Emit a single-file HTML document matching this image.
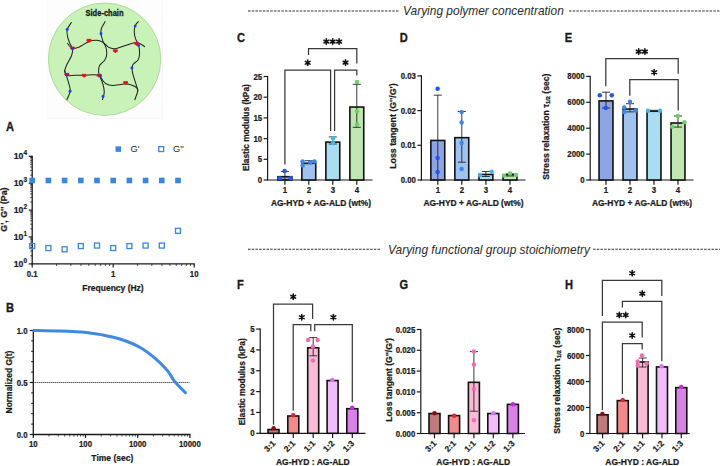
<!DOCTYPE html>
<html><head><meta charset="utf-8"><style>
html,body{margin:0;padding:0;background:#fff;width:720px;height:466px;overflow:hidden;}
svg{display:block;font-family:"Liberation Sans",sans-serif;}
</style></head><body>
<svg width="720" height="466" viewBox="0 0 720 466" font-family="&quot;Liberation Sans&quot;, sans-serif">
<rect width="720" height="466" fill="#fff"/>
<rect x="47" y="-1" width="115.5" height="119.5" fill="#fdfdfd" stroke="#f4f4f4" stroke-width="0.8"/>
<circle cx="104.6" cy="59.2" r="56.2" fill="#c8f2b8" stroke="#a6d994" stroke-width="0.9"/>
<text transform="translate(104.50 15.90) scale(0.8 1)" font-size="9.4" font-weight="bold" text-anchor="middle" fill="#151515" stroke="#151515" stroke-width="0.3">Side-chain</text>
<path d="M71.60,22.20 C70.87,23.42 67.85,27.00 67.20,29.50 C66.55,32.00 67.22,34.78 67.70,37.20 C68.18,39.62 69.30,42.07 70.10,44.00 C70.90,45.93 72.25,46.88 72.50,48.80 C72.75,50.72 72.55,52.85 71.60,55.50 C70.65,58.15 67.93,62.22 66.80,64.70 C65.67,67.18 64.88,68.63 64.80,70.40 C64.72,72.17 65.48,72.55 66.30,75.30 C67.12,78.05 69.07,84.17 69.70,86.90 C70.33,89.63 70.58,89.52 70.10,91.70 C69.62,93.88 67.35,98.62 66.80,100.00" fill="none" stroke="#222" stroke-width="1.05"/>
<path d="M105.30,21.30 C104.65,22.50 102.12,26.42 101.40,28.50 C100.68,30.58 100.75,31.70 101.00,33.80 C101.25,35.90 102.10,38.92 102.90,41.10 C103.70,43.28 105.15,44.82 105.80,46.90 C106.45,48.98 106.93,51.45 106.80,53.60 C106.67,55.75 106.20,57.80 105.00,59.80 C103.80,61.80 100.67,63.67 99.60,65.60 C98.53,67.53 98.60,69.70 98.60,71.40 C98.60,73.10 98.95,73.87 99.60,75.80 C100.25,77.73 101.72,80.35 102.50,83.00 C103.28,85.65 104.32,88.87 104.30,91.70 C104.28,94.53 102.72,98.62 102.40,100.00" fill="none" stroke="#222" stroke-width="1.05"/>
<path d="M138.60,21.30 C138.03,22.02 135.92,23.75 135.20,25.60 C134.48,27.45 134.22,30.15 134.30,32.40 C134.38,34.65 134.98,37.02 135.70,39.10 C136.42,41.18 137.95,42.48 138.60,44.90 C139.25,47.32 139.68,51.08 139.60,53.60 C139.52,56.12 139.23,58.15 138.10,60.00 C136.97,61.85 133.77,62.80 132.80,64.70 C131.83,66.60 131.98,68.83 132.30,71.40 C132.62,73.97 133.88,77.28 134.70,80.10 C135.52,82.92 136.72,86.37 137.20,88.30 C137.68,90.23 138.02,89.75 137.60,91.70 C137.18,93.65 135.18,98.62 134.70,100.00" fill="none" stroke="#222" stroke-width="1.05"/>
<path d="M67.20,43.00 C68.08,43.92 70.48,47.85 72.50,48.50 C74.52,49.15 76.55,48.07 79.30,46.90 C82.05,45.73 86.10,42.60 89.00,41.50 C91.90,40.40 94.45,40.22 96.70,40.30 C98.95,40.38 100.95,41.22 102.50,42.00 C104.05,42.78 104.80,44.03 106.00,45.00 C107.20,45.97 108.13,47.17 109.70,47.80 C111.27,48.43 113.00,49.12 115.40,48.80 C117.80,48.48 120.72,46.95 124.10,45.90 C127.48,44.85 132.97,42.82 135.70,42.50 C138.43,42.18 138.95,43.27 140.50,44.00 C142.05,44.73 144.25,46.42 145.00,46.90" fill="none" stroke="#222" stroke-width="1.05"/>
<path d="M64.30,70.00 C64.72,70.88 65.10,74.42 66.80,75.30 C68.50,76.18 71.62,75.30 74.50,75.30 C77.38,75.30 80.88,75.38 84.10,75.30 C87.32,75.22 91.22,74.72 93.80,74.80 C96.38,74.88 98.15,74.93 99.60,75.80 C101.05,76.67 101.43,78.67 102.50,80.00 C103.57,81.33 104.33,82.90 106.00,83.80 C107.67,84.70 109.32,85.37 112.50,85.40 C115.68,85.43 121.72,84.00 125.10,84.00 C128.48,84.00 130.78,84.68 132.80,85.40 C134.82,86.12 136.40,87.28 137.20,88.30 C138.00,89.32 137.53,90.97 137.60,91.50" fill="none" stroke="#222" stroke-width="1.05"/>
<circle cx="87.95" cy="40.30" r="1.45" fill="#f01018"/>
<circle cx="90.05" cy="40.30" r="1.45" fill="#f01018"/>
<path d="M86.60,40.70 L89.00,42.90 L91.40,40.70 Z" fill="#f01018"/>
<circle cx="71.45" cy="47.90" r="1.45" fill="#f01018"/>
<circle cx="73.55" cy="47.90" r="1.45" fill="#f01018"/>
<path d="M70.10,48.30 L72.50,50.50 L74.90,48.30 Z" fill="#f01018"/>
<circle cx="114.35" cy="50.60" r="1.45" fill="#f01018"/>
<circle cx="116.45" cy="50.60" r="1.45" fill="#f01018"/>
<path d="M113.00,51.00 L115.40,53.20 L117.80,51.00 Z" fill="#f01018"/>
<circle cx="135.65" cy="43.40" r="1.45" fill="#f01018"/>
<circle cx="137.75" cy="43.40" r="1.45" fill="#f01018"/>
<path d="M134.30,43.80 L136.70,46.00 L139.10,43.80 Z" fill="#f01018"/>
<circle cx="65.75" cy="74.20" r="1.45" fill="#f01018"/>
<circle cx="67.85" cy="74.20" r="1.45" fill="#f01018"/>
<path d="M64.40,74.60 L66.80,76.80 L69.20,74.60 Z" fill="#f01018"/>
<circle cx="83.05" cy="75.20" r="1.45" fill="#f01018"/>
<circle cx="85.15" cy="75.20" r="1.45" fill="#f01018"/>
<path d="M81.70,75.60 L84.10,77.80 L86.50,75.60 Z" fill="#f01018"/>
<circle cx="98.05" cy="75.20" r="1.45" fill="#f01018"/>
<circle cx="100.15" cy="75.20" r="1.45" fill="#f01018"/>
<path d="M96.70,75.60 L99.10,77.80 L101.50,75.60 Z" fill="#f01018"/>
<circle cx="124.55" cy="82.40" r="1.45" fill="#f01018"/>
<circle cx="126.65" cy="82.40" r="1.45" fill="#f01018"/>
<path d="M123.20,82.80 L125.60,85.00 L128.00,82.80 Z" fill="#f01018"/>
<circle cx="67.20" cy="29.50" r="1.45" fill="#1a3cf0"/>
<circle cx="72.50" cy="48.80" r="1.45" fill="#1a3cf0"/>
<circle cx="101.00" cy="33.80" r="1.45" fill="#1a3cf0"/>
<circle cx="66.80" cy="75.30" r="1.45" fill="#1a3cf0"/>
<circle cx="70.10" cy="91.20" r="1.45" fill="#1a3cf0"/>
<circle cx="100.50" cy="75.80" r="1.45" fill="#1a3cf0"/>
<circle cx="103.00" cy="96.50" r="1.45" fill="#1a3cf0"/>
<circle cx="135.20" cy="26.10" r="1.45" fill="#1a3cf0"/>
<circle cx="138.60" cy="45.40" r="1.45" fill="#1a3cf0"/>
<circle cx="131.90" cy="68.00" r="1.45" fill="#1a3cf0"/>
<line x1="248.00" y1="11.00" x2="398.50" y2="11.00" stroke="#303030" stroke-width="1.15" stroke-dasharray="2.5 1.2"/>
<text x="403.00" y="15.20" font-size="11.95" font-weight="normal" text-anchor="start" fill="#2b2b2b" font-style="italic">Varying polymer concentration</text>
<line x1="569.00" y1="11.00" x2="720.00" y2="11.00" stroke="#303030" stroke-width="1.15" stroke-dasharray="2.5 1.2"/>
<line x1="248.00" y1="249.20" x2="380.40" y2="249.20" stroke="#303030" stroke-width="1.15" stroke-dasharray="2.5 1.2"/>
<text x="388.00" y="253.60" font-size="11.95" font-weight="normal" text-anchor="start" fill="#2b2b2b" font-style="italic">Varying functional group stoichiometry</text>
<line x1="593.10" y1="249.20" x2="720.00" y2="249.20" stroke="#303030" stroke-width="1.15" stroke-dasharray="2.5 1.2"/>
<text transform="translate(6.00 131.10) scale(0.86 1)" font-size="12.9" font-weight="bold" text-anchor="start" fill="#1a1a1a" stroke="#1a1a1a" stroke-width="0.35">A</text>
<text transform="translate(6.00 311.80) scale(0.86 1)" font-size="12.9" font-weight="bold" text-anchor="start" fill="#1a1a1a" stroke="#1a1a1a" stroke-width="0.35">B</text>
<text transform="translate(237.00 41.50) scale(0.86 1)" font-size="12.9" font-weight="bold" text-anchor="start" fill="#1a1a1a" stroke="#1a1a1a" stroke-width="0.35">C</text>
<text transform="translate(399.80 41.50) scale(0.86 1)" font-size="12.9" font-weight="bold" text-anchor="start" fill="#1a1a1a" stroke="#1a1a1a" stroke-width="0.35">D</text>
<text transform="translate(564.80 41.50) scale(0.86 1)" font-size="12.9" font-weight="bold" text-anchor="start" fill="#1a1a1a" stroke="#1a1a1a" stroke-width="0.35">E</text>
<text transform="translate(237.00 288.60) scale(0.86 1)" font-size="12.9" font-weight="bold" text-anchor="start" fill="#1a1a1a" stroke="#1a1a1a" stroke-width="0.35">F</text>
<text transform="translate(399.60 288.60) scale(0.86 1)" font-size="12.9" font-weight="bold" text-anchor="start" fill="#1a1a1a" stroke="#1a1a1a" stroke-width="0.35">G</text>
<text transform="translate(565.00 288.60) scale(0.86 1)" font-size="12.9" font-weight="bold" text-anchor="start" fill="#1a1a1a" stroke="#1a1a1a" stroke-width="0.35">H</text>
<line x1="32.20" y1="264.50" x2="32.20" y2="155.70" stroke="#1a1a1a" stroke-width="1.3" />
<line x1="28.70" y1="263.90" x2="32.20" y2="263.90" stroke="#1a1a1a" stroke-width="1.2" />
<text transform="translate(27.00 266.50) scale(0.95 1)" font-size="9.2" font-weight="bold" text-anchor="end" fill="#1a1a1a" stroke="#1a1a1a" stroke-width="0.22">10<tspan font-size="6.8" dy="-4.0">0</tspan></text>
<line x1="30.20" y1="255.80" x2="32.20" y2="255.80" stroke="#1a1a1a" stroke-width="0.8" />
<line x1="30.20" y1="251.07" x2="32.20" y2="251.07" stroke="#1a1a1a" stroke-width="0.8" />
<line x1="30.20" y1="247.70" x2="32.20" y2="247.70" stroke="#1a1a1a" stroke-width="0.8" />
<line x1="30.20" y1="245.10" x2="32.20" y2="245.10" stroke="#1a1a1a" stroke-width="0.8" />
<line x1="30.20" y1="242.97" x2="32.20" y2="242.97" stroke="#1a1a1a" stroke-width="0.8" />
<line x1="30.20" y1="241.17" x2="32.20" y2="241.17" stroke="#1a1a1a" stroke-width="0.8" />
<line x1="30.20" y1="239.61" x2="32.20" y2="239.61" stroke="#1a1a1a" stroke-width="0.8" />
<line x1="30.20" y1="238.23" x2="32.20" y2="238.23" stroke="#1a1a1a" stroke-width="0.8" />
<line x1="28.70" y1="237.00" x2="32.20" y2="237.00" stroke="#1a1a1a" stroke-width="1.2" />
<text transform="translate(27.00 239.60) scale(0.95 1)" font-size="9.2" font-weight="bold" text-anchor="end" fill="#1a1a1a" stroke="#1a1a1a" stroke-width="0.22">10<tspan font-size="6.8" dy="-4.0">1</tspan></text>
<line x1="30.20" y1="228.90" x2="32.20" y2="228.90" stroke="#1a1a1a" stroke-width="0.8" />
<line x1="30.20" y1="224.17" x2="32.20" y2="224.17" stroke="#1a1a1a" stroke-width="0.8" />
<line x1="30.20" y1="220.80" x2="32.20" y2="220.80" stroke="#1a1a1a" stroke-width="0.8" />
<line x1="30.20" y1="218.20" x2="32.20" y2="218.20" stroke="#1a1a1a" stroke-width="0.8" />
<line x1="30.20" y1="216.07" x2="32.20" y2="216.07" stroke="#1a1a1a" stroke-width="0.8" />
<line x1="30.20" y1="214.27" x2="32.20" y2="214.27" stroke="#1a1a1a" stroke-width="0.8" />
<line x1="30.20" y1="212.71" x2="32.20" y2="212.71" stroke="#1a1a1a" stroke-width="0.8" />
<line x1="30.20" y1="211.33" x2="32.20" y2="211.33" stroke="#1a1a1a" stroke-width="0.8" />
<line x1="28.70" y1="210.10" x2="32.20" y2="210.10" stroke="#1a1a1a" stroke-width="1.2" />
<text transform="translate(27.00 212.70) scale(0.95 1)" font-size="9.2" font-weight="bold" text-anchor="end" fill="#1a1a1a" stroke="#1a1a1a" stroke-width="0.22">10<tspan font-size="6.8" dy="-4.0">2</tspan></text>
<line x1="30.20" y1="202.00" x2="32.20" y2="202.00" stroke="#1a1a1a" stroke-width="0.8" />
<line x1="30.20" y1="197.27" x2="32.20" y2="197.27" stroke="#1a1a1a" stroke-width="0.8" />
<line x1="30.20" y1="193.90" x2="32.20" y2="193.90" stroke="#1a1a1a" stroke-width="0.8" />
<line x1="30.20" y1="191.30" x2="32.20" y2="191.30" stroke="#1a1a1a" stroke-width="0.8" />
<line x1="30.20" y1="189.17" x2="32.20" y2="189.17" stroke="#1a1a1a" stroke-width="0.8" />
<line x1="30.20" y1="187.37" x2="32.20" y2="187.37" stroke="#1a1a1a" stroke-width="0.8" />
<line x1="30.20" y1="185.81" x2="32.20" y2="185.81" stroke="#1a1a1a" stroke-width="0.8" />
<line x1="30.20" y1="184.43" x2="32.20" y2="184.43" stroke="#1a1a1a" stroke-width="0.8" />
<line x1="28.70" y1="183.20" x2="32.20" y2="183.20" stroke="#1a1a1a" stroke-width="1.2" />
<text transform="translate(27.00 185.80) scale(0.95 1)" font-size="9.2" font-weight="bold" text-anchor="end" fill="#1a1a1a" stroke="#1a1a1a" stroke-width="0.22">10<tspan font-size="6.8" dy="-4.0">3</tspan></text>
<line x1="30.20" y1="175.10" x2="32.20" y2="175.10" stroke="#1a1a1a" stroke-width="0.8" />
<line x1="30.20" y1="170.37" x2="32.20" y2="170.37" stroke="#1a1a1a" stroke-width="0.8" />
<line x1="30.20" y1="167.00" x2="32.20" y2="167.00" stroke="#1a1a1a" stroke-width="0.8" />
<line x1="30.20" y1="164.40" x2="32.20" y2="164.40" stroke="#1a1a1a" stroke-width="0.8" />
<line x1="30.20" y1="162.27" x2="32.20" y2="162.27" stroke="#1a1a1a" stroke-width="0.8" />
<line x1="30.20" y1="160.47" x2="32.20" y2="160.47" stroke="#1a1a1a" stroke-width="0.8" />
<line x1="30.20" y1="158.91" x2="32.20" y2="158.91" stroke="#1a1a1a" stroke-width="0.8" />
<line x1="30.20" y1="157.53" x2="32.20" y2="157.53" stroke="#1a1a1a" stroke-width="0.8" />
<line x1="28.70" y1="156.30" x2="32.20" y2="156.30" stroke="#1a1a1a" stroke-width="1.2" />
<text transform="translate(27.00 158.90) scale(0.95 1)" font-size="9.2" font-weight="bold" text-anchor="end" fill="#1a1a1a" stroke="#1a1a1a" stroke-width="0.22">10<tspan font-size="6.8" dy="-4.0">4</tspan></text>
<line x1="31.60" y1="263.90" x2="194.80" y2="263.90" stroke="#1a1a1a" stroke-width="1.3" />
<line x1="32.20" y1="263.90" x2="32.20" y2="267.40" stroke="#1a1a1a" stroke-width="1.2" />
<line x1="56.58" y1="263.90" x2="56.58" y2="265.90" stroke="#1a1a1a" stroke-width="0.8" />
<line x1="70.85" y1="263.90" x2="70.85" y2="265.90" stroke="#1a1a1a" stroke-width="0.8" />
<line x1="80.97" y1="263.90" x2="80.97" y2="265.90" stroke="#1a1a1a" stroke-width="0.8" />
<line x1="88.82" y1="263.90" x2="88.82" y2="265.90" stroke="#1a1a1a" stroke-width="0.8" />
<line x1="95.23" y1="263.90" x2="95.23" y2="265.90" stroke="#1a1a1a" stroke-width="0.8" />
<line x1="100.65" y1="263.90" x2="100.65" y2="265.90" stroke="#1a1a1a" stroke-width="0.8" />
<line x1="105.35" y1="263.90" x2="105.35" y2="265.90" stroke="#1a1a1a" stroke-width="0.8" />
<line x1="109.49" y1="263.90" x2="109.49" y2="265.90" stroke="#1a1a1a" stroke-width="0.8" />
<line x1="113.20" y1="263.90" x2="113.20" y2="267.40" stroke="#1a1a1a" stroke-width="1.2" />
<line x1="137.58" y1="263.90" x2="137.58" y2="265.90" stroke="#1a1a1a" stroke-width="0.8" />
<line x1="151.85" y1="263.90" x2="151.85" y2="265.90" stroke="#1a1a1a" stroke-width="0.8" />
<line x1="161.97" y1="263.90" x2="161.97" y2="265.90" stroke="#1a1a1a" stroke-width="0.8" />
<line x1="169.82" y1="263.90" x2="169.82" y2="265.90" stroke="#1a1a1a" stroke-width="0.8" />
<line x1="176.23" y1="263.90" x2="176.23" y2="265.90" stroke="#1a1a1a" stroke-width="0.8" />
<line x1="181.65" y1="263.90" x2="181.65" y2="265.90" stroke="#1a1a1a" stroke-width="0.8" />
<line x1="186.35" y1="263.90" x2="186.35" y2="265.90" stroke="#1a1a1a" stroke-width="0.8" />
<line x1="190.49" y1="263.90" x2="190.49" y2="265.90" stroke="#1a1a1a" stroke-width="0.8" />
<line x1="194.20" y1="263.90" x2="194.20" y2="267.40" stroke="#1a1a1a" stroke-width="1.2" />
<text transform="translate(32.20 277.00) scale(0.9 1)" font-size="8.7" font-weight="bold" text-anchor="middle" fill="#1a1a1a"  stroke="#1a1a1a" stroke-width="0.22">0.1</text>
<text transform="translate(113.20 277.00) scale(0.9 1)" font-size="8.7" font-weight="bold" text-anchor="middle" fill="#1a1a1a"  stroke="#1a1a1a" stroke-width="0.22">1</text>
<text transform="translate(194.20 277.00) scale(0.9 1)" font-size="8.7" font-weight="bold" text-anchor="middle" fill="#1a1a1a"  stroke="#1a1a1a" stroke-width="0.22">10</text>
<text x="113.00" y="290.50" font-size="8.5" font-weight="bold" text-anchor="middle" fill="#1a1a1a"  stroke="#1a1a1a" stroke-width="0.22">Frequency (Hz)</text>
<text x="4.30" y="209.60" font-size="8.9" font-weight="bold" text-anchor="middle" fill="#1a1a1a" stroke="#1a1a1a" stroke-width="0.22" transform="rotate(-90 4.30 209.60)" dominant-baseline="central">G', G'' (Pa)</text>
<rect x="29.40" y="177.70" width="5.6" height="5.6" fill="#3a86e0"/>
<rect x="29.70" y="243.55" width="5.0" height="5.0" fill="none" stroke="#3a86e0" stroke-width="1.3"/>
<rect x="45.60" y="177.70" width="5.6" height="5.6" fill="#3a86e0"/>
<rect x="45.90" y="245.55" width="5.0" height="5.0" fill="none" stroke="#3a86e0" stroke-width="1.3"/>
<rect x="61.80" y="177.70" width="5.6" height="5.6" fill="#3a86e0"/>
<rect x="62.10" y="246.80" width="5.0" height="5.0" fill="none" stroke="#3a86e0" stroke-width="1.3"/>
<rect x="78.00" y="177.70" width="5.6" height="5.6" fill="#3a86e0"/>
<rect x="78.30" y="243.55" width="5.0" height="5.0" fill="none" stroke="#3a86e0" stroke-width="1.3"/>
<rect x="94.20" y="177.70" width="5.6" height="5.6" fill="#3a86e0"/>
<rect x="94.50" y="243.05" width="5.0" height="5.0" fill="none" stroke="#3a86e0" stroke-width="1.3"/>
<rect x="110.40" y="177.70" width="5.6" height="5.6" fill="#3a86e0"/>
<rect x="110.70" y="245.55" width="5.0" height="5.0" fill="none" stroke="#3a86e0" stroke-width="1.3"/>
<rect x="126.60" y="177.70" width="5.6" height="5.6" fill="#3a86e0"/>
<rect x="126.90" y="243.55" width="5.0" height="5.0" fill="none" stroke="#3a86e0" stroke-width="1.3"/>
<rect x="142.80" y="177.70" width="5.6" height="5.6" fill="#3a86e0"/>
<rect x="143.10" y="243.05" width="5.0" height="5.0" fill="none" stroke="#3a86e0" stroke-width="1.3"/>
<rect x="159.00" y="177.70" width="5.6" height="5.6" fill="#3a86e0"/>
<rect x="159.30" y="243.05" width="5.0" height="5.0" fill="none" stroke="#3a86e0" stroke-width="1.3"/>
<rect x="175.20" y="177.70" width="5.6" height="5.6" fill="#3a86e0"/>
<rect x="175.50" y="228.30" width="5.0" height="5.0" fill="none" stroke="#3a86e0" stroke-width="1.3"/>
<rect x="115.55" y="146.35" width="5.5" height="5.5" fill="#3a86e0"/>
<text x="130.60" y="152.40" font-size="9.2" font-weight="normal" text-anchor="start" fill="#222" >G'</text>
<rect x="158.75" y="146.65" width="4.9" height="4.9" fill="none" stroke="#3a86e0" stroke-width="1.3"/>
<text x="173.00" y="152.40" font-size="9.2" font-weight="normal" text-anchor="start" fill="#222" >G''</text>
<line x1="33.30" y1="435.10" x2="33.30" y2="329.90" stroke="#1a1a1a" stroke-width="1.3" />
<line x1="29.80" y1="434.50" x2="33.30" y2="434.50" stroke="#1a1a1a" stroke-width="1.2" />
<text transform="translate(27.60 437.50) scale(0.9 1)" font-size="8.7" font-weight="bold" text-anchor="end" fill="#1a1a1a"  stroke="#1a1a1a" stroke-width="0.22">0.0</text>
<line x1="31.10" y1="424.10" x2="33.30" y2="424.10" stroke="#1a1a1a" stroke-width="1" />
<line x1="31.10" y1="413.70" x2="33.30" y2="413.70" stroke="#1a1a1a" stroke-width="1" />
<line x1="31.10" y1="403.30" x2="33.30" y2="403.30" stroke="#1a1a1a" stroke-width="1" />
<line x1="31.10" y1="392.90" x2="33.30" y2="392.90" stroke="#1a1a1a" stroke-width="1" />
<line x1="29.80" y1="382.50" x2="33.30" y2="382.50" stroke="#1a1a1a" stroke-width="1.2" />
<text transform="translate(27.60 385.50) scale(0.9 1)" font-size="8.7" font-weight="bold" text-anchor="end" fill="#1a1a1a"  stroke="#1a1a1a" stroke-width="0.22">0.5</text>
<line x1="31.10" y1="372.10" x2="33.30" y2="372.10" stroke="#1a1a1a" stroke-width="1" />
<line x1="31.10" y1="361.70" x2="33.30" y2="361.70" stroke="#1a1a1a" stroke-width="1" />
<line x1="31.10" y1="351.30" x2="33.30" y2="351.30" stroke="#1a1a1a" stroke-width="1" />
<line x1="31.10" y1="340.90" x2="33.30" y2="340.90" stroke="#1a1a1a" stroke-width="1" />
<line x1="29.80" y1="330.50" x2="33.30" y2="330.50" stroke="#1a1a1a" stroke-width="1.2" />
<text transform="translate(27.60 333.50) scale(0.9 1)" font-size="8.7" font-weight="bold" text-anchor="end" fill="#1a1a1a"  stroke="#1a1a1a" stroke-width="0.22">1.0</text>
<line x1="32.70" y1="434.50" x2="190.50" y2="434.50" stroke="#1a1a1a" stroke-width="1.3" />
<line x1="33.30" y1="434.50" x2="33.30" y2="438.00" stroke="#1a1a1a" stroke-width="1.2" />
<line x1="49.01" y1="434.50" x2="49.01" y2="436.50" stroke="#1a1a1a" stroke-width="0.8" />
<line x1="58.21" y1="434.50" x2="58.21" y2="436.50" stroke="#1a1a1a" stroke-width="0.8" />
<line x1="64.73" y1="434.50" x2="64.73" y2="436.50" stroke="#1a1a1a" stroke-width="0.8" />
<line x1="69.79" y1="434.50" x2="69.79" y2="436.50" stroke="#1a1a1a" stroke-width="0.8" />
<line x1="73.92" y1="434.50" x2="73.92" y2="436.50" stroke="#1a1a1a" stroke-width="0.8" />
<line x1="77.41" y1="434.50" x2="77.41" y2="436.50" stroke="#1a1a1a" stroke-width="0.8" />
<line x1="80.44" y1="434.50" x2="80.44" y2="436.50" stroke="#1a1a1a" stroke-width="0.8" />
<line x1="83.11" y1="434.50" x2="83.11" y2="436.50" stroke="#1a1a1a" stroke-width="0.8" />
<line x1="85.50" y1="434.50" x2="85.50" y2="438.00" stroke="#1a1a1a" stroke-width="1.2" />
<line x1="101.21" y1="434.50" x2="101.21" y2="436.50" stroke="#1a1a1a" stroke-width="0.8" />
<line x1="110.41" y1="434.50" x2="110.41" y2="436.50" stroke="#1a1a1a" stroke-width="0.8" />
<line x1="116.93" y1="434.50" x2="116.93" y2="436.50" stroke="#1a1a1a" stroke-width="0.8" />
<line x1="121.99" y1="434.50" x2="121.99" y2="436.50" stroke="#1a1a1a" stroke-width="0.8" />
<line x1="126.12" y1="434.50" x2="126.12" y2="436.50" stroke="#1a1a1a" stroke-width="0.8" />
<line x1="129.61" y1="434.50" x2="129.61" y2="436.50" stroke="#1a1a1a" stroke-width="0.8" />
<line x1="132.64" y1="434.50" x2="132.64" y2="436.50" stroke="#1a1a1a" stroke-width="0.8" />
<line x1="135.31" y1="434.50" x2="135.31" y2="436.50" stroke="#1a1a1a" stroke-width="0.8" />
<line x1="137.70" y1="434.50" x2="137.70" y2="438.00" stroke="#1a1a1a" stroke-width="1.2" />
<line x1="153.41" y1="434.50" x2="153.41" y2="436.50" stroke="#1a1a1a" stroke-width="0.8" />
<line x1="162.61" y1="434.50" x2="162.61" y2="436.50" stroke="#1a1a1a" stroke-width="0.8" />
<line x1="169.13" y1="434.50" x2="169.13" y2="436.50" stroke="#1a1a1a" stroke-width="0.8" />
<line x1="174.19" y1="434.50" x2="174.19" y2="436.50" stroke="#1a1a1a" stroke-width="0.8" />
<line x1="178.32" y1="434.50" x2="178.32" y2="436.50" stroke="#1a1a1a" stroke-width="0.8" />
<line x1="181.81" y1="434.50" x2="181.81" y2="436.50" stroke="#1a1a1a" stroke-width="0.8" />
<line x1="184.84" y1="434.50" x2="184.84" y2="436.50" stroke="#1a1a1a" stroke-width="0.8" />
<line x1="187.51" y1="434.50" x2="187.51" y2="436.50" stroke="#1a1a1a" stroke-width="0.8" />
<line x1="189.90" y1="434.50" x2="189.90" y2="438.00" stroke="#1a1a1a" stroke-width="1.2" />
<text transform="translate(33.30 447.20) scale(0.9 1)" font-size="8.7" font-weight="bold" text-anchor="middle" fill="#1a1a1a"  stroke="#1a1a1a" stroke-width="0.22">10</text>
<text transform="translate(85.50 447.20) scale(0.9 1)" font-size="8.7" font-weight="bold" text-anchor="middle" fill="#1a1a1a"  stroke="#1a1a1a" stroke-width="0.22">100</text>
<text transform="translate(137.70 447.20) scale(0.9 1)" font-size="8.7" font-weight="bold" text-anchor="middle" fill="#1a1a1a"  stroke="#1a1a1a" stroke-width="0.22">1000</text>
<text transform="translate(189.90 447.20) scale(0.9 1)" font-size="8.7" font-weight="bold" text-anchor="middle" fill="#1a1a1a"  stroke="#1a1a1a" stroke-width="0.22">10000</text>
<text x="112.30" y="461.10" font-size="8.5" font-weight="bold" text-anchor="middle" fill="#1a1a1a"  stroke="#1a1a1a" stroke-width="0.22">Time (sec)</text>
<text x="9.00" y="382.00" font-size="8.45" font-weight="bold" text-anchor="middle" fill="#1a1a1a" stroke="#1a1a1a" stroke-width="0.22" transform="rotate(-90 9.00 382.00)" dominant-baseline="central">Normalized G(t)</text>
<line x1="33.30" y1="382.50" x2="189.50" y2="382.50" stroke="#222" stroke-width="1.0" stroke-dasharray="1.1 0.9"/>
<path d="M33.80,330.40 C38.17,330.50 51.30,330.67 60.00,331.00 C68.70,331.33 78.83,331.73 86.00,332.40 C93.17,333.07 97.33,333.90 103.00,335.00 C108.67,336.10 113.88,336.97 120.00,339.00 C126.12,341.03 133.83,343.97 139.70,347.20 C145.57,350.43 150.62,354.53 155.20,358.40 C159.78,362.27 164.07,366.70 167.20,370.40 C170.33,374.10 171.95,377.87 174.00,380.60 C176.05,383.33 177.60,384.80 179.50,386.80 C181.40,388.80 184.42,391.63 185.40,392.60" fill="none" stroke="#3d8ae0" stroke-width="3" stroke-linecap="round" stroke-linejoin="round"/>
<line x1="267.60" y1="180.60" x2="267.60" y2="75.90" stroke="#1a1a1a" stroke-width="1.2" />
<line x1="263.60" y1="180.00" x2="267.60" y2="180.00" stroke="#1a1a1a" stroke-width="1.2" />
<text transform="translate(262.10 183.00) scale(0.9 1)" font-size="8.7" font-weight="bold" text-anchor="end" fill="#1a1a1a"  stroke="#1a1a1a" stroke-width="0.22">0</text>
<line x1="263.60" y1="159.30" x2="267.60" y2="159.30" stroke="#1a1a1a" stroke-width="1.2" />
<text transform="translate(262.10 162.30) scale(0.9 1)" font-size="8.7" font-weight="bold" text-anchor="end" fill="#1a1a1a"  stroke="#1a1a1a" stroke-width="0.22">5</text>
<line x1="263.60" y1="138.60" x2="267.60" y2="138.60" stroke="#1a1a1a" stroke-width="1.2" />
<text transform="translate(262.10 141.60) scale(0.9 1)" font-size="8.7" font-weight="bold" text-anchor="end" fill="#1a1a1a"  stroke="#1a1a1a" stroke-width="0.22">10</text>
<line x1="263.60" y1="117.90" x2="267.60" y2="117.90" stroke="#1a1a1a" stroke-width="1.2" />
<text transform="translate(262.10 120.90) scale(0.9 1)" font-size="8.7" font-weight="bold" text-anchor="end" fill="#1a1a1a"  stroke="#1a1a1a" stroke-width="0.22">15</text>
<line x1="263.60" y1="97.20" x2="267.60" y2="97.20" stroke="#1a1a1a" stroke-width="1.2" />
<text transform="translate(262.10 100.20) scale(0.9 1)" font-size="8.7" font-weight="bold" text-anchor="end" fill="#1a1a1a"  stroke="#1a1a1a" stroke-width="0.22">20</text>
<line x1="263.60" y1="76.50" x2="267.60" y2="76.50" stroke="#1a1a1a" stroke-width="1.2" />
<text transform="translate(262.10 79.50) scale(0.9 1)" font-size="8.7" font-weight="bold" text-anchor="end" fill="#1a1a1a"  stroke="#1a1a1a" stroke-width="0.22">25</text>
<line x1="267.00" y1="180.00" x2="372.50" y2="180.00" stroke="#1a1a1a" stroke-width="1.2" />
<line x1="284.90" y1="180.00" x2="284.90" y2="184.80" stroke="#1a1a1a" stroke-width="1.2" />
<line x1="308.80" y1="180.00" x2="308.80" y2="184.80" stroke="#1a1a1a" stroke-width="1.2" />
<line x1="332.80" y1="180.00" x2="332.80" y2="184.80" stroke="#1a1a1a" stroke-width="1.2" />
<line x1="356.80" y1="180.00" x2="356.80" y2="184.80" stroke="#1a1a1a" stroke-width="1.2" />
<text transform="translate(284.90 193.40) scale(0.9 1)" font-size="8.7" font-weight="bold" text-anchor="middle" fill="#1a1a1a"  stroke="#1a1a1a" stroke-width="0.22">1</text>
<text transform="translate(308.80 193.40) scale(0.9 1)" font-size="8.7" font-weight="bold" text-anchor="middle" fill="#1a1a1a"  stroke="#1a1a1a" stroke-width="0.22">2</text>
<text transform="translate(332.80 193.40) scale(0.9 1)" font-size="8.7" font-weight="bold" text-anchor="middle" fill="#1a1a1a"  stroke="#1a1a1a" stroke-width="0.22">3</text>
<text transform="translate(356.80 193.40) scale(0.9 1)" font-size="8.7" font-weight="bold" text-anchor="middle" fill="#1a1a1a"  stroke="#1a1a1a" stroke-width="0.22">4</text>
<text x="321.00" y="205.90" font-size="8.45" font-weight="bold" text-anchor="middle" fill="#1a1a1a"  stroke="#1a1a1a" stroke-width="0.22">AG-HYD + AG-ALD (wt%)</text>
<text x="245.60" y="127.60" font-size="8.4" font-weight="bold" text-anchor="middle" fill="#1a1a1a" stroke="#1a1a1a" stroke-width="0.22" transform="rotate(-90 245.60 127.60)" dominant-baseline="central">Elastic modulus (kPa)</text>
<polyline points="284.90,164.40 284.90,70.10 330.60,70.10 330.60,131.10" fill="none" stroke="#3a3a3a" stroke-width="1.25"/>
<polyline points="334.60,131.10 334.60,70.10 356.80,70.10 356.80,75.50" fill="none" stroke="#3a3a3a" stroke-width="1.25"/>
<polyline points="308.50,55.00 308.50,48.70 356.80,48.70 356.80,63.60" fill="none" stroke="#3a3a3a" stroke-width="1.25"/>
<path d="M307.70,60.05 L307.70,65.55 M305.32,61.42 L310.08,64.17 M305.32,64.17 L310.08,61.42 " stroke="#111" stroke-width="1.55" stroke-linecap="round" fill="none"/>
<circle cx="307.70" cy="62.80" r="1.0" fill="#111"/>
<path d="M345.50,59.85 L345.50,65.35 M343.12,61.23 L347.88,63.98 M343.12,63.98 L347.88,61.23 " stroke="#111" stroke-width="1.55" stroke-linecap="round" fill="none"/>
<circle cx="345.50" cy="62.60" r="1.0" fill="#111"/>
<path d="M326.30,38.85 L326.30,44.35 M323.92,40.23 L328.68,42.98 M323.92,42.98 L328.68,40.23 " stroke="#111" stroke-width="1.55" stroke-linecap="round" fill="none"/>
<circle cx="326.30" cy="41.60" r="1.0" fill="#111"/>
<path d="M332.70,38.85 L332.70,44.35 M330.32,40.23 L335.08,42.98 M330.32,42.98 L335.08,40.23 " stroke="#111" stroke-width="1.55" stroke-linecap="round" fill="none"/>
<circle cx="332.70" cy="41.60" r="1.0" fill="#111"/>
<path d="M339.10,38.85 L339.10,44.35 M336.72,40.23 L341.48,42.98 M336.72,42.98 L341.48,40.23 " stroke="#111" stroke-width="1.55" stroke-linecap="round" fill="none"/>
<circle cx="339.10" cy="41.60" r="1.0" fill="#111"/>
<rect x="277.95" y="176.69" width="13.90" height="3.31" fill="#8ea5e4" stroke="#111" stroke-width="1.6"/>
<rect x="301.85" y="163.23" width="13.90" height="16.77" fill="#9fc2ef" stroke="#111" stroke-width="1.6"/>
<rect x="325.85" y="142.12" width="13.90" height="37.88" fill="#a9ddf1" stroke="#111" stroke-width="1.6"/>
<rect x="349.85" y="107.05" width="13.90" height="72.95" fill="#c0e6b2" stroke="#111" stroke-width="1.6"/>
<line x1="284.90" y1="171.50" x2="284.90" y2="180.00" stroke="#222" stroke-width="0.9" />
<line x1="280.90" y1="171.50" x2="288.90" y2="171.50" stroke="#222" stroke-width="0.9" />
<line x1="280.90" y1="180.00" x2="288.90" y2="180.00" stroke="#222" stroke-width="0.9" />
<circle cx="284.60" cy="171.00" r="2.25" fill="#2156e6"/>
<circle cx="279.70" cy="178.20" r="2.25" fill="#2156e6"/>
<circle cx="290.60" cy="178.20" r="2.25" fill="#2156e6"/>
<line x1="308.80" y1="160.70" x2="308.80" y2="163.70" stroke="#222" stroke-width="0.9" />
<line x1="304.80" y1="160.70" x2="312.80" y2="160.70" stroke="#222" stroke-width="0.9" />
<line x1="304.80" y1="163.70" x2="312.80" y2="163.70" stroke="#222" stroke-width="0.9" />
<circle cx="302.60" cy="161.60" r="2.25" fill="#3b88ea"/>
<circle cx="310.30" cy="162.60" r="2.25" fill="#3b88ea"/>
<circle cx="314.50" cy="161.60" r="2.25" fill="#3b88ea"/>
<circle cx="302.60" cy="165.60" r="2.25" fill="#3b88ea"/>
<line x1="332.80" y1="136.90" x2="332.80" y2="144.00" stroke="#222" stroke-width="0.9" />
<line x1="328.80" y1="136.90" x2="336.80" y2="136.90" stroke="#222" stroke-width="0.9" />
<line x1="328.80" y1="144.00" x2="336.80" y2="144.00" stroke="#222" stroke-width="0.9" />
<circle cx="333.00" cy="138.20" r="2.25" fill="#40b7e6"/>
<circle cx="333.00" cy="142.90" r="2.25" fill="#40b7e6"/>
<line x1="356.80" y1="84.30" x2="356.80" y2="127.30" stroke="#222" stroke-width="0.9" />
<line x1="352.80" y1="84.30" x2="360.80" y2="84.30" stroke="#222" stroke-width="0.9" />
<line x1="352.80" y1="127.30" x2="360.80" y2="127.30" stroke="#222" stroke-width="0.9" />
<circle cx="357.00" cy="82.10" r="2.25" fill="#6ece6b"/>
<circle cx="357.00" cy="111.20" r="2.25" fill="#6ece6b"/>
<circle cx="357.00" cy="124.20" r="2.25" fill="#6ece6b"/>
<line x1="421.40" y1="180.60" x2="421.40" y2="75.30" stroke="#1a1a1a" stroke-width="1.2" />
<line x1="417.40" y1="180.00" x2="421.40" y2="180.00" stroke="#1a1a1a" stroke-width="1.2" />
<text transform="translate(415.90 183.00) scale(0.9 1)" font-size="8.7" font-weight="bold" text-anchor="end" fill="#1a1a1a"  stroke="#1a1a1a" stroke-width="0.22">0.00</text>
<line x1="417.40" y1="145.30" x2="421.40" y2="145.30" stroke="#1a1a1a" stroke-width="1.2" />
<text transform="translate(415.90 148.30) scale(0.9 1)" font-size="8.7" font-weight="bold" text-anchor="end" fill="#1a1a1a"  stroke="#1a1a1a" stroke-width="0.22">0.01</text>
<line x1="417.40" y1="110.60" x2="421.40" y2="110.60" stroke="#1a1a1a" stroke-width="1.2" />
<text transform="translate(415.90 113.60) scale(0.9 1)" font-size="8.7" font-weight="bold" text-anchor="end" fill="#1a1a1a"  stroke="#1a1a1a" stroke-width="0.22">0.02</text>
<line x1="417.40" y1="75.90" x2="421.40" y2="75.90" stroke="#1a1a1a" stroke-width="1.2" />
<text transform="translate(415.90 78.90) scale(0.9 1)" font-size="8.7" font-weight="bold" text-anchor="end" fill="#1a1a1a"  stroke="#1a1a1a" stroke-width="0.22">0.03</text>
<line x1="420.80" y1="180.00" x2="525.50" y2="180.00" stroke="#1a1a1a" stroke-width="1.2" />
<line x1="437.80" y1="180.00" x2="437.80" y2="184.80" stroke="#1a1a1a" stroke-width="1.2" />
<line x1="461.80" y1="180.00" x2="461.80" y2="184.80" stroke="#1a1a1a" stroke-width="1.2" />
<line x1="485.90" y1="180.00" x2="485.90" y2="184.80" stroke="#1a1a1a" stroke-width="1.2" />
<line x1="510.00" y1="180.00" x2="510.00" y2="184.80" stroke="#1a1a1a" stroke-width="1.2" />
<text transform="translate(437.80 193.40) scale(0.9 1)" font-size="8.7" font-weight="bold" text-anchor="middle" fill="#1a1a1a"  stroke="#1a1a1a" stroke-width="0.22">1</text>
<text transform="translate(461.80 193.40) scale(0.9 1)" font-size="8.7" font-weight="bold" text-anchor="middle" fill="#1a1a1a"  stroke="#1a1a1a" stroke-width="0.22">2</text>
<text transform="translate(485.90 193.40) scale(0.9 1)" font-size="8.7" font-weight="bold" text-anchor="middle" fill="#1a1a1a"  stroke="#1a1a1a" stroke-width="0.22">3</text>
<text transform="translate(510.00 193.40) scale(0.9 1)" font-size="8.7" font-weight="bold" text-anchor="middle" fill="#1a1a1a"  stroke="#1a1a1a" stroke-width="0.22">4</text>
<text x="473.50" y="205.90" font-size="8.45" font-weight="bold" text-anchor="middle" fill="#1a1a1a"  stroke="#1a1a1a" stroke-width="0.22">AG-HYD + AG-ALD (wt%)</text>
<text x="392.80" y="126.10" font-size="8.8" font-weight="bold" text-anchor="middle" fill="#1a1a1a" stroke="#1a1a1a" stroke-width="0.22" transform="rotate(-90 392.80 126.10)" dominant-baseline="central">Loss tangent (G''/G')</text>
<rect x="430.85" y="140.44" width="13.90" height="39.56" fill="#8ea5e4" stroke="#111" stroke-width="1.6"/>
<rect x="454.85" y="137.67" width="13.90" height="42.33" fill="#9fc2ef" stroke="#111" stroke-width="1.6"/>
<rect x="478.95" y="174.45" width="13.90" height="5.55" fill="#a9ddf1" stroke="#111" stroke-width="1.6"/>
<rect x="503.05" y="174.79" width="13.90" height="5.21" fill="#c0e6b2" stroke="#111" stroke-width="1.6"/>
<line x1="437.80" y1="95.20" x2="437.80" y2="180.00" stroke="#222" stroke-width="0.9" />
<line x1="433.80" y1="95.20" x2="441.80" y2="95.20" stroke="#222" stroke-width="0.9" />
<line x1="433.80" y1="180.00" x2="441.80" y2="180.00" stroke="#222" stroke-width="0.9" />
<circle cx="437.60" cy="88.80" r="2.25" fill="#2156e6"/>
<circle cx="437.60" cy="157.90" r="2.25" fill="#2156e6"/>
<circle cx="437.60" cy="171.90" r="2.25" fill="#2156e6"/>
<line x1="461.80" y1="111.50" x2="461.80" y2="162.20" stroke="#222" stroke-width="0.9" />
<line x1="457.80" y1="111.50" x2="465.80" y2="111.50" stroke="#222" stroke-width="0.9" />
<line x1="457.80" y1="162.20" x2="465.80" y2="162.20" stroke="#222" stroke-width="0.9" />
<circle cx="461.60" cy="112.00" r="2.25" fill="#3b88ea"/>
<circle cx="461.60" cy="122.50" r="2.25" fill="#3b88ea"/>
<circle cx="461.60" cy="142.90" r="2.25" fill="#3b88ea"/>
<circle cx="461.60" cy="169.10" r="2.25" fill="#3b88ea"/>
<line x1="485.90" y1="171.50" x2="485.90" y2="176.50" stroke="#222" stroke-width="0.9" />
<line x1="481.90" y1="171.50" x2="489.90" y2="171.50" stroke="#222" stroke-width="0.9" />
<line x1="481.90" y1="176.50" x2="489.90" y2="176.50" stroke="#222" stroke-width="0.9" />
<circle cx="480.00" cy="175.10" r="2.25" fill="#40b7e6"/>
<circle cx="491.70" cy="171.70" r="2.25" fill="#40b7e6"/>
<line x1="510.00" y1="173.80" x2="510.00" y2="176.00" stroke="#222" stroke-width="0.9" />
<line x1="506.00" y1="173.80" x2="514.00" y2="173.80" stroke="#222" stroke-width="0.9" />
<line x1="506.00" y1="176.00" x2="514.00" y2="176.00" stroke="#222" stroke-width="0.9" />
<circle cx="510.00" cy="173.40" r="2.25" fill="#6ece6b"/>
<circle cx="504.00" cy="175.50" r="2.25" fill="#6ece6b"/>
<circle cx="516.00" cy="175.00" r="2.25" fill="#6ece6b"/>
<line x1="590.20" y1="180.60" x2="590.20" y2="75.80" stroke="#1a1a1a" stroke-width="1.2" />
<line x1="586.20" y1="180.00" x2="590.20" y2="180.00" stroke="#1a1a1a" stroke-width="1.2" />
<text transform="translate(584.70 183.00) scale(0.9 1)" font-size="8.7" font-weight="bold" text-anchor="end" fill="#1a1a1a"  stroke="#1a1a1a" stroke-width="0.22">0</text>
<line x1="586.20" y1="154.10" x2="590.20" y2="154.10" stroke="#1a1a1a" stroke-width="1.2" />
<text transform="translate(584.70 157.10) scale(0.9 1)" font-size="8.7" font-weight="bold" text-anchor="end" fill="#1a1a1a"  stroke="#1a1a1a" stroke-width="0.22">2000</text>
<line x1="586.20" y1="128.20" x2="590.20" y2="128.20" stroke="#1a1a1a" stroke-width="1.2" />
<text transform="translate(584.70 131.20) scale(0.9 1)" font-size="8.7" font-weight="bold" text-anchor="end" fill="#1a1a1a"  stroke="#1a1a1a" stroke-width="0.22">4000</text>
<line x1="586.20" y1="102.30" x2="590.20" y2="102.30" stroke="#1a1a1a" stroke-width="1.2" />
<text transform="translate(584.70 105.30) scale(0.9 1)" font-size="8.7" font-weight="bold" text-anchor="end" fill="#1a1a1a"  stroke="#1a1a1a" stroke-width="0.22">6000</text>
<line x1="586.20" y1="76.40" x2="590.20" y2="76.40" stroke="#1a1a1a" stroke-width="1.2" />
<text transform="translate(584.70 79.40) scale(0.9 1)" font-size="8.7" font-weight="bold" text-anchor="end" fill="#1a1a1a"  stroke="#1a1a1a" stroke-width="0.22">8000</text>
<line x1="589.60" y1="180.00" x2="693.50" y2="180.00" stroke="#1a1a1a" stroke-width="1.2" />
<line x1="606.00" y1="180.00" x2="606.00" y2="184.80" stroke="#1a1a1a" stroke-width="1.2" />
<line x1="630.00" y1="180.00" x2="630.00" y2="184.80" stroke="#1a1a1a" stroke-width="1.2" />
<line x1="654.00" y1="180.00" x2="654.00" y2="184.80" stroke="#1a1a1a" stroke-width="1.2" />
<line x1="678.00" y1="180.00" x2="678.00" y2="184.80" stroke="#1a1a1a" stroke-width="1.2" />
<text transform="translate(606.00 193.40) scale(0.9 1)" font-size="8.7" font-weight="bold" text-anchor="middle" fill="#1a1a1a"  stroke="#1a1a1a" stroke-width="0.22">1</text>
<text transform="translate(630.00 193.40) scale(0.9 1)" font-size="8.7" font-weight="bold" text-anchor="middle" fill="#1a1a1a"  stroke="#1a1a1a" stroke-width="0.22">2</text>
<text transform="translate(654.00 193.40) scale(0.9 1)" font-size="8.7" font-weight="bold" text-anchor="middle" fill="#1a1a1a"  stroke="#1a1a1a" stroke-width="0.22">3</text>
<text transform="translate(678.00 193.40) scale(0.9 1)" font-size="8.7" font-weight="bold" text-anchor="middle" fill="#1a1a1a"  stroke="#1a1a1a" stroke-width="0.22">4</text>
<text x="642.00" y="205.90" font-size="8.45" font-weight="bold" text-anchor="middle" fill="#1a1a1a"  stroke="#1a1a1a" stroke-width="0.22">AG-HYD + AG-ALD (wt%)</text>
<text x="546.2" y="126.6" font-size="8.65" font-weight="bold" text-anchor="middle" fill="#1a1a1a" stroke="#1a1a1a" stroke-width="0.22" transform="rotate(-90 546.2 126.6)" dominant-baseline="central">Stress relaxation τ<tspan font-size="5.6" dy="2.2">1/2</tspan><tspan dy="-2.2"> (sec)</tspan></text>
<polyline points="605.80,86.20 605.80,58.70 678.20,58.70 678.20,73.80" fill="none" stroke="#3a3a3a" stroke-width="1.25"/>
<polyline points="629.80,95.80 629.80,79.70 678.20,79.70 678.20,110.50" fill="none" stroke="#3a3a3a" stroke-width="1.25"/>
<path d="M638.70,48.85 L638.70,54.35 M636.32,50.23 L641.08,52.98 M636.32,52.98 L641.08,50.23 " stroke="#111" stroke-width="1.55" stroke-linecap="round" fill="none"/>
<circle cx="638.70" cy="51.60" r="1.0" fill="#111"/>
<path d="M644.90,48.85 L644.90,54.35 M642.52,50.23 L647.28,52.98 M642.52,52.98 L647.28,50.23 " stroke="#111" stroke-width="1.55" stroke-linecap="round" fill="none"/>
<circle cx="644.90" cy="51.60" r="1.0" fill="#111"/>
<path d="M654.20,69.45 L654.20,74.95 M651.82,70.83 L656.58,73.58 M651.82,73.58 L656.58,70.83 " stroke="#111" stroke-width="1.55" stroke-linecap="round" fill="none"/>
<circle cx="654.20" cy="72.20" r="1.0" fill="#111"/>
<rect x="599.05" y="100.88" width="13.90" height="79.12" fill="#8ea5e4" stroke="#111" stroke-width="1.6"/>
<rect x="623.05" y="109.03" width="13.90" height="70.97" fill="#9fc2ef" stroke="#111" stroke-width="1.6"/>
<rect x="647.05" y="111.24" width="13.90" height="68.76" fill="#a9ddf1" stroke="#111" stroke-width="1.6"/>
<rect x="671.05" y="123.02" width="13.90" height="56.98" fill="#c0e6b2" stroke="#111" stroke-width="1.6"/>
<line x1="606.00" y1="92.20" x2="606.00" y2="108.00" stroke="#222" stroke-width="0.9" />
<line x1="602.00" y1="92.20" x2="610.00" y2="92.20" stroke="#222" stroke-width="0.9" />
<line x1="602.00" y1="108.00" x2="610.00" y2="108.00" stroke="#222" stroke-width="0.9" />
<circle cx="599.80" cy="95.20" r="2.25" fill="#2156e6"/>
<circle cx="611.80" cy="95.20" r="2.25" fill="#2156e6"/>
<circle cx="605.80" cy="108.00" r="2.25" fill="#2156e6"/>
<line x1="630.00" y1="103.70" x2="630.00" y2="111.90" stroke="#222" stroke-width="0.9" />
<line x1="626.00" y1="103.70" x2="634.00" y2="103.70" stroke="#222" stroke-width="0.9" />
<line x1="626.00" y1="111.90" x2="634.00" y2="111.90" stroke="#222" stroke-width="0.9" />
<circle cx="630.00" cy="101.80" r="2.25" fill="#3b88ea"/>
<circle cx="624.20" cy="107.60" r="2.25" fill="#3b88ea"/>
<circle cx="624.20" cy="111.90" r="2.25" fill="#3b88ea"/>
<circle cx="635.80" cy="110.50" r="2.25" fill="#3b88ea"/>
<line x1="654.00" y1="110.30" x2="654.00" y2="111.30" stroke="#222" stroke-width="0.9" />
<line x1="650.00" y1="110.30" x2="658.00" y2="110.30" stroke="#222" stroke-width="0.9" />
<line x1="650.00" y1="111.30" x2="658.00" y2="111.30" stroke="#222" stroke-width="0.9" />
<circle cx="648.00" cy="110.80" r="2.25" fill="#40b7e6"/>
<circle cx="660.00" cy="110.80" r="2.25" fill="#40b7e6"/>
<line x1="678.00" y1="116.00" x2="678.00" y2="127.10" stroke="#222" stroke-width="0.9" />
<line x1="674.00" y1="116.00" x2="682.00" y2="116.00" stroke="#222" stroke-width="0.9" />
<line x1="674.00" y1="127.10" x2="682.00" y2="127.10" stroke="#222" stroke-width="0.9" />
<circle cx="677.80" cy="116.00" r="2.25" fill="#6ece6b"/>
<circle cx="672.20" cy="126.70" r="2.25" fill="#6ece6b"/>
<circle cx="684.40" cy="122.20" r="2.25" fill="#6ece6b"/>
<line x1="260.20" y1="433.90" x2="260.20" y2="328.45" stroke="#1a1a1a" stroke-width="1.2" />
<line x1="256.20" y1="433.30" x2="260.20" y2="433.30" stroke="#1a1a1a" stroke-width="1.2" />
<text transform="translate(254.70 436.30) scale(0.9 1)" font-size="8.7" font-weight="bold" text-anchor="end" fill="#1a1a1a"  stroke="#1a1a1a" stroke-width="0.22">0</text>
<line x1="256.20" y1="412.45" x2="260.20" y2="412.45" stroke="#1a1a1a" stroke-width="1.2" />
<text transform="translate(254.70 415.45) scale(0.9 1)" font-size="8.7" font-weight="bold" text-anchor="end" fill="#1a1a1a"  stroke="#1a1a1a" stroke-width="0.22">1</text>
<line x1="256.20" y1="391.60" x2="260.20" y2="391.60" stroke="#1a1a1a" stroke-width="1.2" />
<text transform="translate(254.70 394.60) scale(0.9 1)" font-size="8.7" font-weight="bold" text-anchor="end" fill="#1a1a1a"  stroke="#1a1a1a" stroke-width="0.22">2</text>
<line x1="256.20" y1="370.75" x2="260.20" y2="370.75" stroke="#1a1a1a" stroke-width="1.2" />
<text transform="translate(254.70 373.75) scale(0.9 1)" font-size="8.7" font-weight="bold" text-anchor="end" fill="#1a1a1a"  stroke="#1a1a1a" stroke-width="0.22">3</text>
<line x1="256.20" y1="349.90" x2="260.20" y2="349.90" stroke="#1a1a1a" stroke-width="1.2" />
<text transform="translate(254.70 352.90) scale(0.9 1)" font-size="8.7" font-weight="bold" text-anchor="end" fill="#1a1a1a"  stroke="#1a1a1a" stroke-width="0.22">4</text>
<line x1="256.20" y1="329.05" x2="260.20" y2="329.05" stroke="#1a1a1a" stroke-width="1.2" />
<text transform="translate(254.70 332.05) scale(0.9 1)" font-size="8.7" font-weight="bold" text-anchor="end" fill="#1a1a1a"  stroke="#1a1a1a" stroke-width="0.22">5</text>
<line x1="259.60" y1="433.30" x2="365.50" y2="433.30" stroke="#1a1a1a" stroke-width="1.2" />
<line x1="273.50" y1="433.30" x2="273.50" y2="438.10" stroke="#1a1a1a" stroke-width="1.2" />
<line x1="293.30" y1="433.30" x2="293.30" y2="438.10" stroke="#1a1a1a" stroke-width="1.2" />
<line x1="313.20" y1="433.30" x2="313.20" y2="438.10" stroke="#1a1a1a" stroke-width="1.2" />
<line x1="332.60" y1="433.30" x2="332.60" y2="438.10" stroke="#1a1a1a" stroke-width="1.2" />
<line x1="352.30" y1="433.30" x2="352.30" y2="438.10" stroke="#1a1a1a" stroke-width="1.2" />
<text x="276.00" y="444.00" font-size="8.4" font-weight="bold" text-anchor="end" fill="#1a1a1a" stroke="#1a1a1a" stroke-width="0.2" transform="rotate(-45 276.00 444.00)">3:1</text>
<text x="295.80" y="444.00" font-size="8.4" font-weight="bold" text-anchor="end" fill="#1a1a1a" stroke="#1a1a1a" stroke-width="0.2" transform="rotate(-45 295.80 444.00)">2:1</text>
<text x="315.70" y="444.00" font-size="8.4" font-weight="bold" text-anchor="end" fill="#1a1a1a" stroke="#1a1a1a" stroke-width="0.2" transform="rotate(-45 315.70 444.00)">1:1</text>
<text x="335.10" y="444.00" font-size="8.4" font-weight="bold" text-anchor="end" fill="#1a1a1a" stroke="#1a1a1a" stroke-width="0.2" transform="rotate(-45 335.10 444.00)">1:2</text>
<text x="354.80" y="444.00" font-size="8.4" font-weight="bold" text-anchor="end" fill="#1a1a1a" stroke="#1a1a1a" stroke-width="0.2" transform="rotate(-45 354.80 444.00)">1:3</text>
<text x="312.80" y="464.70" font-size="8.5" font-weight="bold" text-anchor="middle" fill="#1a1a1a"  stroke="#1a1a1a" stroke-width="0.22">AG-HYD : AG-ALD</text>
<text x="242.40" y="381.80" font-size="8.4" font-weight="bold" text-anchor="middle" fill="#1a1a1a" stroke="#1a1a1a" stroke-width="0.22" transform="rotate(-90 242.40 381.80)" dominant-baseline="central">Elastic modulus (kPa)</text>
<polyline points="273.50,424.80 273.50,304.10 312.60,304.10 312.60,318.90" fill="none" stroke="#3a3a3a" stroke-width="1.25"/>
<polyline points="293.20,410.80 293.20,324.70 310.80,324.70 310.80,331.20" fill="none" stroke="#3a3a3a" stroke-width="1.25"/>
<polyline points="314.70,331.20 314.70,324.70 352.30,324.70 352.30,402.20" fill="none" stroke="#3a3a3a" stroke-width="1.25"/>
<path d="M293.20,294.05 L293.20,299.55 M290.82,295.43 L295.58,298.18 M290.82,298.18 L295.58,295.43 " stroke="#111" stroke-width="1.55" stroke-linecap="round" fill="none"/>
<circle cx="293.20" cy="296.80" r="1.0" fill="#111"/>
<path d="M301.80,314.45 L301.80,319.95 M299.42,315.82 L304.18,318.57 M299.42,318.57 L304.18,315.82 " stroke="#111" stroke-width="1.55" stroke-linecap="round" fill="none"/>
<circle cx="301.80" cy="317.20" r="1.0" fill="#111"/>
<path d="M333.40,314.45 L333.40,319.95 M331.02,315.82 L335.78,318.57 M331.02,318.57 L335.78,315.82 " stroke="#111" stroke-width="1.55" stroke-linecap="round" fill="none"/>
<circle cx="333.40" cy="317.20" r="1.0" fill="#111"/>
<rect x="268.00" y="429.55" width="11.00" height="3.75" fill="#c07a7e" stroke="#111" stroke-width="1.6"/>
<rect x="287.80" y="415.99" width="11.00" height="17.31" fill="#f08a8c" stroke="#111" stroke-width="1.6"/>
<rect x="307.70" y="347.81" width="11.00" height="85.49" fill="#f9bad6" stroke="#111" stroke-width="1.6"/>
<rect x="327.10" y="380.55" width="11.00" height="52.75" fill="#efbdf7" stroke="#111" stroke-width="1.6"/>
<rect x="346.80" y="408.70" width="11.00" height="24.60" fill="#d982e5" stroke="#111" stroke-width="1.6"/>
<line x1="313.20" y1="337.60" x2="313.20" y2="355.80" stroke="#222" stroke-width="0.9" />
<line x1="309.20" y1="337.60" x2="317.20" y2="337.60" stroke="#222" stroke-width="0.9" />
<line x1="309.20" y1="355.80" x2="317.20" y2="355.80" stroke="#222" stroke-width="0.9" />
<circle cx="273.60" cy="428.30" r="2.25" fill="#8a0f12"/>
<circle cx="293.20" cy="415.20" r="2.25" fill="#e0243a"/>
<circle cx="308.10" cy="339.90" r="2.25" fill="#f06db6"/>
<circle cx="317.60" cy="339.90" r="2.25" fill="#f06db6"/>
<circle cx="312.90" cy="346.60" r="2.25" fill="#f06db6"/>
<circle cx="312.90" cy="360.50" r="2.25" fill="#f06db6"/>
<circle cx="332.30" cy="379.90" r="2.25" fill="#d676ef"/>
<circle cx="352.20" cy="407.80" r="2.25" fill="#c12ed4"/>
<line x1="420.80" y1="434.10" x2="420.80" y2="328.90" stroke="#1a1a1a" stroke-width="1.2" />
<line x1="416.80" y1="433.50" x2="420.80" y2="433.50" stroke="#1a1a1a" stroke-width="1.2" />
<text transform="translate(415.30 436.50) scale(0.9 1)" font-size="8.7" font-weight="bold" text-anchor="end" fill="#1a1a1a"  stroke="#1a1a1a" stroke-width="0.22">0.000</text>
<line x1="416.80" y1="412.70" x2="420.80" y2="412.70" stroke="#1a1a1a" stroke-width="1.2" />
<text transform="translate(415.30 415.70) scale(0.9 1)" font-size="8.7" font-weight="bold" text-anchor="end" fill="#1a1a1a"  stroke="#1a1a1a" stroke-width="0.22">0.005</text>
<line x1="416.80" y1="391.90" x2="420.80" y2="391.90" stroke="#1a1a1a" stroke-width="1.2" />
<text transform="translate(415.30 394.90) scale(0.9 1)" font-size="8.7" font-weight="bold" text-anchor="end" fill="#1a1a1a"  stroke="#1a1a1a" stroke-width="0.22">0.010</text>
<line x1="416.80" y1="371.10" x2="420.80" y2="371.10" stroke="#1a1a1a" stroke-width="1.2" />
<text transform="translate(415.30 374.10) scale(0.9 1)" font-size="8.7" font-weight="bold" text-anchor="end" fill="#1a1a1a"  stroke="#1a1a1a" stroke-width="0.22">0.015</text>
<line x1="416.80" y1="350.30" x2="420.80" y2="350.30" stroke="#1a1a1a" stroke-width="1.2" />
<text transform="translate(415.30 353.30) scale(0.9 1)" font-size="8.7" font-weight="bold" text-anchor="end" fill="#1a1a1a"  stroke="#1a1a1a" stroke-width="0.22">0.020</text>
<line x1="416.80" y1="329.50" x2="420.80" y2="329.50" stroke="#1a1a1a" stroke-width="1.2" />
<text transform="translate(415.30 332.50) scale(0.9 1)" font-size="8.7" font-weight="bold" text-anchor="end" fill="#1a1a1a"  stroke="#1a1a1a" stroke-width="0.22">0.025</text>
<line x1="420.20" y1="433.50" x2="525.00" y2="433.50" stroke="#1a1a1a" stroke-width="1.2" />
<line x1="434.50" y1="433.50" x2="434.50" y2="438.30" stroke="#1a1a1a" stroke-width="1.2" />
<line x1="454.10" y1="433.50" x2="454.10" y2="438.30" stroke="#1a1a1a" stroke-width="1.2" />
<line x1="473.90" y1="433.50" x2="473.90" y2="438.30" stroke="#1a1a1a" stroke-width="1.2" />
<line x1="493.30" y1="433.50" x2="493.30" y2="438.30" stroke="#1a1a1a" stroke-width="1.2" />
<line x1="512.90" y1="433.50" x2="512.90" y2="438.30" stroke="#1a1a1a" stroke-width="1.2" />
<text x="437.00" y="444.00" font-size="8.4" font-weight="bold" text-anchor="end" fill="#1a1a1a" stroke="#1a1a1a" stroke-width="0.2" transform="rotate(-45 437.00 444.00)">3:1</text>
<text x="456.60" y="444.00" font-size="8.4" font-weight="bold" text-anchor="end" fill="#1a1a1a" stroke="#1a1a1a" stroke-width="0.2" transform="rotate(-45 456.60 444.00)">2:1</text>
<text x="476.40" y="444.00" font-size="8.4" font-weight="bold" text-anchor="end" fill="#1a1a1a" stroke="#1a1a1a" stroke-width="0.2" transform="rotate(-45 476.40 444.00)">1:1</text>
<text x="495.80" y="444.00" font-size="8.4" font-weight="bold" text-anchor="end" fill="#1a1a1a" stroke="#1a1a1a" stroke-width="0.2" transform="rotate(-45 495.80 444.00)">1:2</text>
<text x="515.40" y="444.00" font-size="8.4" font-weight="bold" text-anchor="end" fill="#1a1a1a" stroke="#1a1a1a" stroke-width="0.2" transform="rotate(-45 515.40 444.00)">1:3</text>
<text x="473.20" y="464.70" font-size="8.5" font-weight="bold" text-anchor="middle" fill="#1a1a1a"  stroke="#1a1a1a" stroke-width="0.22">AG-HYD : AG-ALD</text>
<text x="389.20" y="379.90" font-size="8.6" font-weight="bold" text-anchor="middle" fill="#1a1a1a" stroke="#1a1a1a" stroke-width="0.22" transform="rotate(-90 389.20 379.90)" dominant-baseline="central">Loss tangent (G''/G')</text>
<rect x="429.00" y="413.53" width="11.00" height="19.97" fill="#c07a7e" stroke="#111" stroke-width="1.6"/>
<rect x="448.60" y="415.61" width="11.00" height="17.89" fill="#f08a8c" stroke="#111" stroke-width="1.6"/>
<rect x="468.40" y="382.33" width="11.00" height="51.17" fill="#f9bad6" stroke="#111" stroke-width="1.6"/>
<rect x="487.80" y="413.53" width="11.00" height="19.97" fill="#efbdf7" stroke="#111" stroke-width="1.6"/>
<rect x="507.40" y="404.38" width="11.00" height="29.12" fill="#d982e5" stroke="#111" stroke-width="1.6"/>
<line x1="473.90" y1="351.60" x2="473.90" y2="411.20" stroke="#222" stroke-width="0.9" />
<line x1="469.90" y1="351.60" x2="477.90" y2="351.60" stroke="#222" stroke-width="0.9" />
<line x1="469.90" y1="411.20" x2="477.90" y2="411.20" stroke="#222" stroke-width="0.9" />
<circle cx="434.50" cy="413.20" r="2.25" fill="#8a0f12"/>
<circle cx="454.10" cy="415.80" r="2.25" fill="#e0243a"/>
<circle cx="473.90" cy="351.60" r="2.25" fill="#f06db6"/>
<circle cx="473.90" cy="364.60" r="2.25" fill="#f06db6"/>
<circle cx="473.90" cy="388.90" r="2.25" fill="#f06db6"/>
<circle cx="473.90" cy="420.30" r="2.25" fill="#f06db6"/>
<circle cx="493.30" cy="413.20" r="2.25" fill="#d676ef"/>
<circle cx="512.90" cy="404.20" r="2.25" fill="#c12ed4"/>
<line x1="589.90" y1="434.10" x2="589.90" y2="328.90" stroke="#1a1a1a" stroke-width="1.2" />
<line x1="585.90" y1="433.50" x2="589.90" y2="433.50" stroke="#1a1a1a" stroke-width="1.2" />
<text transform="translate(584.40 436.50) scale(0.9 1)" font-size="8.7" font-weight="bold" text-anchor="end" fill="#1a1a1a"  stroke="#1a1a1a" stroke-width="0.22">0</text>
<line x1="585.90" y1="407.50" x2="589.90" y2="407.50" stroke="#1a1a1a" stroke-width="1.2" />
<text transform="translate(584.40 410.50) scale(0.9 1)" font-size="8.7" font-weight="bold" text-anchor="end" fill="#1a1a1a"  stroke="#1a1a1a" stroke-width="0.22">2000</text>
<line x1="585.90" y1="381.50" x2="589.90" y2="381.50" stroke="#1a1a1a" stroke-width="1.2" />
<text transform="translate(584.40 384.50) scale(0.9 1)" font-size="8.7" font-weight="bold" text-anchor="end" fill="#1a1a1a"  stroke="#1a1a1a" stroke-width="0.22">4000</text>
<line x1="585.90" y1="355.50" x2="589.90" y2="355.50" stroke="#1a1a1a" stroke-width="1.2" />
<text transform="translate(584.40 358.50) scale(0.9 1)" font-size="8.7" font-weight="bold" text-anchor="end" fill="#1a1a1a"  stroke="#1a1a1a" stroke-width="0.22">6000</text>
<line x1="585.90" y1="329.50" x2="589.90" y2="329.50" stroke="#1a1a1a" stroke-width="1.2" />
<text transform="translate(584.40 332.50) scale(0.9 1)" font-size="8.7" font-weight="bold" text-anchor="end" fill="#1a1a1a"  stroke="#1a1a1a" stroke-width="0.22">8000</text>
<line x1="589.30" y1="433.50" x2="689.80" y2="433.50" stroke="#1a1a1a" stroke-width="1.2" />
<line x1="602.60" y1="433.50" x2="602.60" y2="438.30" stroke="#1a1a1a" stroke-width="1.2" />
<line x1="622.80" y1="433.50" x2="622.80" y2="438.30" stroke="#1a1a1a" stroke-width="1.2" />
<line x1="642.60" y1="433.50" x2="642.60" y2="438.30" stroke="#1a1a1a" stroke-width="1.2" />
<line x1="662.00" y1="433.50" x2="662.00" y2="438.30" stroke="#1a1a1a" stroke-width="1.2" />
<line x1="681.30" y1="433.50" x2="681.30" y2="438.30" stroke="#1a1a1a" stroke-width="1.2" />
<text x="605.10" y="444.00" font-size="8.4" font-weight="bold" text-anchor="end" fill="#1a1a1a" stroke="#1a1a1a" stroke-width="0.2" transform="rotate(-45 605.10 444.00)">3:1</text>
<text x="625.30" y="444.00" font-size="8.4" font-weight="bold" text-anchor="end" fill="#1a1a1a" stroke="#1a1a1a" stroke-width="0.2" transform="rotate(-45 625.30 444.00)">2:1</text>
<text x="645.10" y="444.00" font-size="8.4" font-weight="bold" text-anchor="end" fill="#1a1a1a" stroke="#1a1a1a" stroke-width="0.2" transform="rotate(-45 645.10 444.00)">1:1</text>
<text x="664.50" y="444.00" font-size="8.4" font-weight="bold" text-anchor="end" fill="#1a1a1a" stroke="#1a1a1a" stroke-width="0.2" transform="rotate(-45 664.50 444.00)">1:2</text>
<text x="683.80" y="444.00" font-size="8.4" font-weight="bold" text-anchor="end" fill="#1a1a1a" stroke="#1a1a1a" stroke-width="0.2" transform="rotate(-45 683.80 444.00)">1:3</text>
<text x="642.20" y="464.70" font-size="8.5" font-weight="bold" text-anchor="middle" fill="#1a1a1a"  stroke="#1a1a1a" stroke-width="0.22">AG-HYD : AG-ALD</text>
<text x="556.7" y="380.6" font-size="8.65" font-weight="bold" text-anchor="middle" fill="#1a1a1a" stroke="#1a1a1a" stroke-width="0.22" transform="rotate(-90 556.7 380.6)" dominant-baseline="central">Stress relaxation τ<tspan font-size="5.6" dy="2.2">1/2</tspan><tspan dy="-2.2"> (sec)</tspan></text>
<polyline points="602.40,316.10 602.40,280.30 661.80,280.30 661.80,296.00" fill="none" stroke="#3a3a3a" stroke-width="1.25"/>
<polyline points="622.40,307.60 622.40,301.40 661.80,301.40 661.80,361.20" fill="none" stroke="#3a3a3a" stroke-width="1.25"/>
<polyline points="602.40,410.30 602.40,322.00 642.20,322.00 642.20,337.60" fill="none" stroke="#3a3a3a" stroke-width="1.25"/>
<polyline points="622.40,394.00 622.40,343.60 642.20,343.60 642.20,349.50" fill="none" stroke="#3a3a3a" stroke-width="1.25"/>
<path d="M632.20,270.45 L632.20,275.95 M629.82,271.82 L634.58,274.57 M629.82,274.57 L634.58,271.82 " stroke="#111" stroke-width="1.55" stroke-linecap="round" fill="none"/>
<circle cx="632.20" cy="273.20" r="1.0" fill="#111"/>
<path d="M642.30,290.85 L642.30,296.35 M639.92,292.23 L644.68,294.98 M639.92,294.98 L644.68,292.23 " stroke="#111" stroke-width="1.55" stroke-linecap="round" fill="none"/>
<circle cx="642.30" cy="293.60" r="1.0" fill="#111"/>
<path d="M619.30,312.25 L619.30,317.75 M616.92,313.62 L621.68,316.38 M616.92,316.38 L621.68,313.62 " stroke="#111" stroke-width="1.55" stroke-linecap="round" fill="none"/>
<circle cx="619.30" cy="315.00" r="1.0" fill="#111"/>
<path d="M625.70,312.25 L625.70,317.75 M623.32,313.62 L628.08,316.38 M623.32,316.38 L628.08,313.62 " stroke="#111" stroke-width="1.55" stroke-linecap="round" fill="none"/>
<circle cx="625.70" cy="315.00" r="1.0" fill="#111"/>
<path d="M632.20,332.75 L632.20,338.25 M629.82,334.12 L634.58,336.88 M629.82,336.88 L634.58,334.12 " stroke="#111" stroke-width="1.55" stroke-linecap="round" fill="none"/>
<circle cx="632.20" cy="335.50" r="1.0" fill="#111"/>
<rect x="597.10" y="414.78" width="11.00" height="18.72" fill="#c07a7e" stroke="#111" stroke-width="1.6"/>
<rect x="617.30" y="400.61" width="11.00" height="32.89" fill="#f08a8c" stroke="#111" stroke-width="1.6"/>
<rect x="637.10" y="362.00" width="11.00" height="71.50" fill="#f9bad6" stroke="#111" stroke-width="1.6"/>
<rect x="656.50" y="366.94" width="11.00" height="66.56" fill="#efbdf7" stroke="#111" stroke-width="1.6"/>
<rect x="675.80" y="387.61" width="11.00" height="45.89" fill="#d982e5" stroke="#111" stroke-width="1.6"/>
<line x1="642.60" y1="358.00" x2="642.60" y2="367.00" stroke="#222" stroke-width="0.9" />
<line x1="638.60" y1="358.00" x2="646.60" y2="358.00" stroke="#222" stroke-width="0.9" />
<line x1="638.60" y1="367.00" x2="646.60" y2="367.00" stroke="#222" stroke-width="0.9" />
<circle cx="602.40" cy="414.00" r="2.25" fill="#8a0f12"/>
<circle cx="622.70" cy="400.00" r="2.25" fill="#e0243a"/>
<circle cx="642.00" cy="355.50" r="2.25" fill="#f06db6"/>
<circle cx="637.70" cy="361.50" r="2.25" fill="#f06db6"/>
<circle cx="637.70" cy="365.60" r="2.25" fill="#f06db6"/>
<circle cx="646.70" cy="363.60" r="2.25" fill="#f06db6"/>
<circle cx="661.60" cy="366.20" r="2.25" fill="#d676ef"/>
<circle cx="681.20" cy="387.00" r="2.25" fill="#c12ed4"/>
</svg>
</body></html>
